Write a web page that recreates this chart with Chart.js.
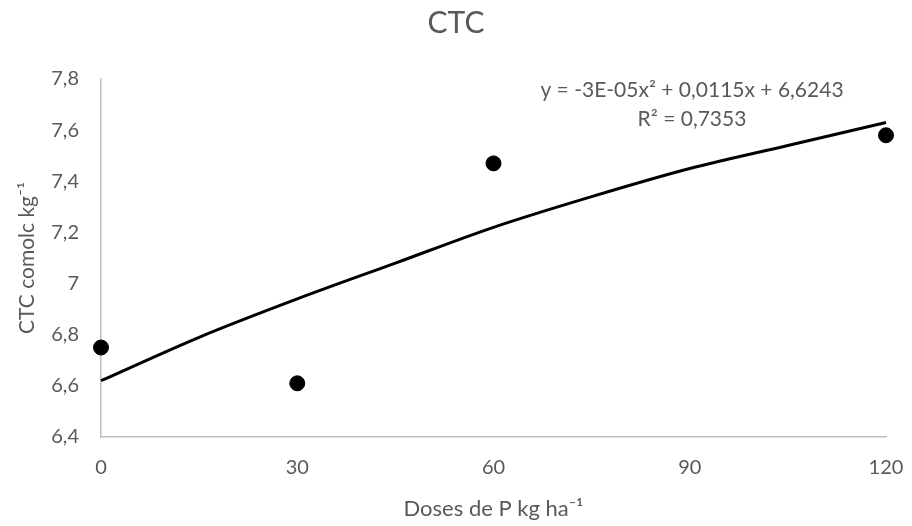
<!DOCTYPE html>
<html>
<head>
<meta charset="utf-8">
<style>
  html, body { margin: 0; padding: 0; background: #fff; }
  #wrap { width: 912px; height: 526px; }
</style>
</head>
<body>
<div id="wrap"><canvas id="ctcChart"></canvas></div>
<script src="https://cdn.jsdelivr.net/npm/chart.js"></script>
<script>
    // observed values
    const doses = [0, 30, 60, 120];
    const ctcValues = [6.75, 6.61, 7.47, 7.58];

    // trend line
    const trendDoses = [0, 15, 30, 45, 60, 75, 90, 105, 120];
    const trendValues = [6.62, 6.79, 6.94, 7.08, 7.22, 7.34, 7.45, 7.54, 7.63];

    const xTicks = [0, 30, 60, 90, 120];
    const equationLines = ['y = -3E-05x² + 0,0115x + 6,6243', 'R² = 0,7353'];

    const grey = '#595959';
    const fontFamily = 'Lato, "Open Sans", sans-serif';

    const equationPlugin = {
        id: 'equation',
        afterDraw(chart) {
            const c = chart.ctx;
            c.save();
            c.fillStyle = grey;
            c.font = '21px ' + fontFamily;
            c.textAlign = 'center';
            c.textBaseline = 'middle';
            c.fillText(equationLines[0], 692, 90);
            c.fillText(equationLines[1], 692, 119);
            c.restore();
        }
    };

    const ctx = document.getElementById('ctcChart').getContext('2d');
    const ctcChart = new Chart(ctx, {
        type: 'scatter',
        data: {
            datasets: [{
                label: 'CTC',
                data: doses.map((d, i) => ({x: d, y: ctcValues[i]})),
                backgroundColor: '#000',
                borderColor: '#000',
                pointRadius: 7.5,
                pointHoverRadius: 7.5,
                clip: false,
                order: 1
            }, {
                label: 'Trend',
                type: 'line',
                data: trendDoses.map((d, i) => ({x: d, y: trendValues[i]})),
                borderColor: '#000',
                borderWidth: 3,
                pointRadius: 0,
                fill: false,
                cubicInterpolationMode: 'monotone',
                clip: false,
                order: 2
            }]
        },
        options: {
            responsive: true,
            maintainAspectRatio: false,
            animation: false,
            layout: { padding: 0 },
            plugins: {
                legend: { display: false },
                tooltip: { enabled: false },
                title: {
                    display: true,
                    text: 'CTC',
                    color: grey,
                    font: { family: fontFamily, size: 30, weight: 'normal' },
                    padding: { top: 5, bottom: 38 }
                }
            },
            scales: {
                x: {
                    type: 'linear',
                    min: 0,
                    max: 120,
                    afterBuildTicks: s => { s.ticks = xTicks.map(v => ({value: v})); },
                    grid: { display: false, drawTicks: false },
                    border: { color: '#bfbfbf', width: 1.5 },
                    ticks: { color: grey, font: { family: fontFamily, size: 20 }, padding: 19 },
                    title: {
                        display: true,
                        text: 'Doses de P kg ha⁻¹',
                        color: grey,
                        font: { family: fontFamily, size: 22 },
                        padding: { top: 6 }
                    },
                    afterFit: s => { s.height = 89; s.paddingRight = 26; s.paddingLeft = 0; }
                },
                y: {
                    min: 6.4,
                    max: 7.8,
                    grid: { display: false, drawTicks: false },
                    border: { color: '#bfbfbf', width: 1.5 },
                    ticks: {
                        stepSize: 0.2,
                        color: grey,
                        font: { family: fontFamily, size: 20 },
                        padding: 22,
                        callback: v => (Math.round(v * 10) / 10).toString().replace('.', ',')
                    },
                    title: {
                        display: true,
                        text: 'CTC comolc kg⁻¹',
                        color: grey,
                        font: { family: fontFamily, size: 21 },
                        padding: { top: 15 }
                    },
                    afterFit: s => { s.width = 101; }
                }
            }
        },
        plugins: [equationPlugin]
    });
</script>
</body>
</html>
